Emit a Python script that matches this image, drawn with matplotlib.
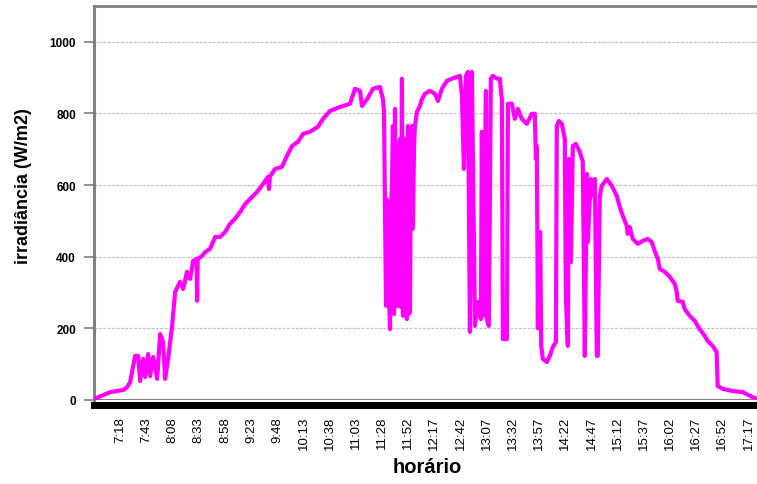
import numpy as np
import matplotlib
matplotlib.use('Agg')
import matplotlib.pyplot as plt

plt.rcParams['font.family'] = ['Liberation Sans', 'DejaVu Sans']

# horario em minutos desde 0:00, irradiancia em W/m2
minutos = [413.2, 428.5, 440.9, 444.7, 447.5, 452.3, 455.2, 457.1, 459.9, 461.9,
           464.7, 466.6, 469.5, 473.3, 476.2, 479.0, 480.9, 483.8, 487.6, 490.5,
           495.2, 498.1, 501.9, 504.8, 507.6, 511.0, 511.5, 512.0, 516.2, 519.1,
           523.9, 528.6, 533.4, 538.2, 542.9, 547.7, 552.5, 557.3, 562.0, 568.7,
           574.4, 579.2, 580.1, 580.8, 585.9, 592.5, 597.3, 602.1, 607.8, 612.6,
           619.3, 626.9, 631.7, 638.3, 647.8, 657.4, 662.2, 667.0, 668.9, 673.7,
           679.4, 686.0, 688.9, 689.9, 690.8, 691.3, 691.8, 692.7, 693.7, 694.6,
           695.6, 696.5, 697.5, 698.4, 699.4, 700.4, 701.3, 702.3, 703.2, 704.2,
           705.1, 706.0, 707.0, 708.0, 709.0, 709.9, 710.8, 711.8, 712.8, 713.7,
           714.7, 715.6, 716.6, 717.5, 718.5, 719.4, 721.3, 724.2, 726.1, 729.0,
           733.7, 738.5, 741.4, 745.2, 750.0, 754.7, 759.5, 762.4, 764.3, 766.2,
           768.1, 770.0, 771.9, 773.8, 774.8, 776.7, 779.5, 782.4, 783.3, 784.3,
           787.2, 788.1, 790.0, 791.9, 793.8, 797.7, 800.5, 802.4, 803.4, 807.2,
           808.2, 812.0, 814.8, 817.7, 821.5, 824.4, 826.3, 831.0, 833.9, 834.9,
           835.8, 836.8, 837.5, 839.0, 840.0, 841.5, 845.4, 848.2, 851.1, 854.0,
           854.9, 856.8, 859.7, 862.5, 863.5, 865.4, 866.3, 868.3, 870.2, 873.0,
           876.8, 879.7, 881.6, 883.5, 884.5, 887.3, 889.2, 891.2, 893.1, 894.0,
           895.9, 897.8, 902.6, 907.4, 912.1, 915.0, 917.9, 921.7, 922.6, 924.5,
           927.4, 932.2, 936.9, 941.7, 945.5, 948.4, 951.3, 953.2, 957.9, 962.7,
           967.5, 969.4, 970.3, 975.1, 977.0, 981.8, 986.6, 991.3, 996.1, 998.9,
           1003.7, 1007.5, 1008.5, 1013.3, 1022.8, 1032.3, 1041.9, 1045.7]
irradiancia = [3, 22, 28, 36, 50, 123, 123, 53, 115, 64,
               128, 67, 120, 59, 184, 162, 59, 115, 207, 302,
               330, 310, 358, 338, 388, 394, 277, 394, 402, 413,
               422, 455, 455, 469, 492, 506, 525, 547, 561, 581,
               603, 623, 589, 623, 645, 651, 682, 709, 721, 743,
               749, 763, 785, 807, 818, 827, 869, 863, 821, 840,
               869, 874, 840, 804, 553, 420, 263, 560, 469, 300,
               198, 520, 609, 765, 240, 813, 263, 654, 263, 700,
               729, 260, 897, 235, 690, 729, 280, 226, 765, 240,
               246, 700, 765, 478, 700, 765, 804, 821, 840, 855,
               863, 855, 835, 869, 891, 897, 902, 905, 849, 645,
               905, 916, 190, 916, 673, 207, 274, 226, 749, 235,
               863, 226, 207, 897, 905, 897, 897, 840, 170, 170,
               827, 827, 785, 813, 785, 776, 771, 799, 799, 673,
               709, 200, 469, 469, 151, 115, 106, 123, 148, 162,
               765, 779, 771, 729, 290, 151, 673, 385, 709, 715,
               693, 665, 123, 631, 441, 617, 570, 617, 123, 123,
               570, 598, 617, 598, 570, 539, 514, 486, 464, 483,
               450, 436, 444, 450, 441, 416, 394, 366, 358, 344,
               324, 302, 277, 274, 254, 235, 221, 198, 179, 165,
               151, 134, 39, 31, 25, 22, 8, 3]

rotulos = ['7:18', '7:43', '8:08', '8:33', '8:58', '9:23', '9:48', '10:13', '10:38',
           '11:03', '11:28', '11:52', '12:17', '12:42', '13:07', '13:32', '13:57',
           '14:22', '14:47', '15:12', '15:37', '16:02', '16:27', '16:52', '17:17']
posicoes = [438 + 25 * i for i in range(len(rotulos))]

fig = plt.figure(figsize=(7.57, 4.85), dpi=100)
ax = fig.add_axes([94 / 757, 1 - 401 / 485, 1 - 94 / 757, 394 / 485])

# spines primeiro (set_position reinicia os ticks)
ax.spines['left'].set_color('#808080')
ax.spines['left'].set_linewidth(2.2)
ax.spines['top'].set_color('#808080')
ax.spines['top'].set_linewidth(2)
ax.spines['right'].set_visible(False)
ax.spines['bottom'].set_color('black')
ax.spines['bottom'].set_linewidth(5)
ax.spines['bottom'].set_position(('outward', 3.5))
ax.axhline(0, color='#808080', lw=1.5, zorder=2)

ax.plot(minutos, irradiancia, color='#ff00ff', lw=3.0, zorder=3)

ax.set_xlim(413, 1046)
ax.set_ylim(0, 1100)
ax.set_yticks([0, 200, 400, 600, 800, 1000])
ax.set_yticklabels(['0', '200', '400', '600', '800', '1000'], fontweight='bold', fontsize=8.5)
ax.yaxis.grid(True, color='#c4c4c4', lw=0.9, linestyle=(0, (2.5, 1)))
ax.set_axisbelow(True)

ax.set_xticks(posicoes)
ax.set_xticklabels(rotulos, rotation=90, fontsize=9.5, va='top', ha='center')
ax.tick_params(axis='x', length=0, pad=8)
ax.tick_params(axis='y', length=7, width=1.2, color='#808080', pad=6)

ax.set_ylabel('irradiância (W/m2)', fontsize=13, fontweight='bold')
ax.yaxis.set_label_coords(-0.094, 0.546)
ax.set_xlabel('horário', fontsize=14.5, fontweight='bold')
ax.xaxis.set_label_coords(0.502, -0.145)

fig.savefig('out.png', dpi=100)
